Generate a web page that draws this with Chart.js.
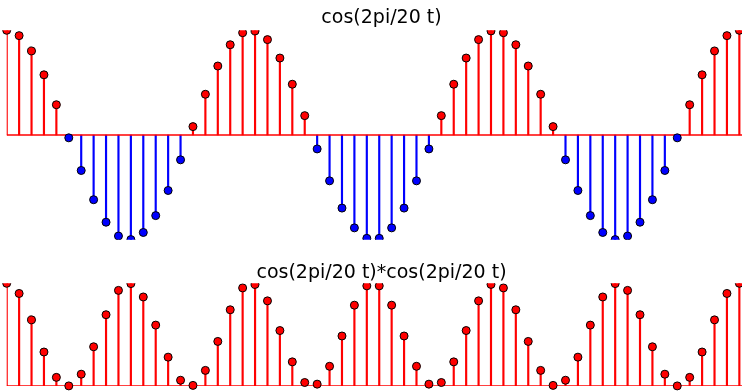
<!DOCTYPE html>
<html>
<head>
<meta charset="utf-8">
<script src="https://cdn.jsdelivr.net/npm/chart.js@4/dist/chart.umd.min.js"></script>
<style>
  html, body { margin: 0; padding: 0; background: #fff; overflow: hidden; }
  #wrap { position: relative; width: 742px; height: 391px; overflow: hidden; }
  canvas { position: absolute; left: 0; }
  #top { top: 0; }
  #bottom { top: 250px; }
</style>
</head>
<body>
<div id="wrap">
  <canvas id="top" width="760" height="250"></canvas>
  <canvas id="bottom" width="760" height="141"></canvas>
</div>
<script>
// values, one per sample n = 0..59
const cosValues = [
  1.000, 0.949, 0.803, 0.575, 0.289, -0.027, -0.339, -0.618, -0.833, -0.965,
  -0.999, -0.931, -0.770, -0.530, -0.237, 0.080, 0.389, 0.659, 0.862, 0.977,
  0.994, 0.911, 0.735, 0.485, 0.185, -0.133, -0.438, -0.698, -0.887, -0.987,
  -0.987, -0.887, -0.698, -0.438, -0.133, 0.185, 0.485, 0.735, 0.911, 0.994,
  0.977, 0.862, 0.659, 0.389, 0.080, -0.237, -0.530, -0.770, -0.931, -0.999,
  -0.965, -0.833, -0.618, -0.339, -0.027, 0.289, 0.575, 0.803, 0.949, 1.000
];
const cosSquaredValues = [
  1.000, 0.901, 0.644, 0.331, 0.084, 0.001, 0.115, 0.382, 0.694, 0.931,
  0.997, 0.867, 0.593, 0.281, 0.056, 0.006, 0.152, 0.434, 0.742, 0.955,
  0.989, 0.829, 0.540, 0.235, 0.034, 0.018, 0.192, 0.487, 0.787, 0.975,
  0.975, 0.787, 0.487, 0.192, 0.018, 0.034, 0.235, 0.540, 0.829, 0.989,
  0.955, 0.742, 0.434, 0.152, 0.006, 0.056, 0.281, 0.593, 0.867, 0.997,
  0.931, 0.694, 0.382, 0.115, 0.001, 0.084, 0.331, 0.644, 0.901, 1.000
];
const titles = ['cos(2pi/20 t)', 'cos(2pi/20 t)*cos(2pi/20 t)'];
const xMax = 60.26;

const RED = '#ff0000';
const BLUE = '#0000ff';

function signColor(ctx) {
  const v = ctx.raw ? ctx.raw.y : 0;
  return v < 0 ? BLUE : RED;
}

function stemChart(id, values, title, yMin, yMax, pad, titlePad, markerClip) {
  const pts = values.map((v, i) => ({ x: i, y: v }));
  return new Chart(document.getElementById(id), {
    type: 'scatter',
    data: {
      datasets: [
        {
          type: 'scatter',
          data: pts,
          pointRadius: 4,
          pointHoverRadius: 4,
          pointBorderWidth: 1,
          pointBorderColor: '#000',
          pointBackgroundColor: signColor,
          clip: markerClip,
          order: 0
        },
        {
          type: 'line',
          data: [{ x: 0, y: 0 }, { x: xMax, y: 0 }],
          borderColor: RED,
          borderWidth: 1.5,
          pointRadius: 0,
          order: 1
        },
        {
          type: 'bar',
          data: pts,
          barThickness: 1.5,
          backgroundColor: signColor,
          borderWidth: 0,
          order: 2
        }
      ]
    },
    options: {
      responsive: false,
      animation: false,
      devicePixelRatio: 1,
      layout: { padding: pad },
      plugins: {
        legend: { display: false },
        tooltip: { enabled: false },
        title: {
          display: true,
          text: title,
          color: '#000',
          font: { family: 'DejaVu Sans', size: 19, weight: 'normal', lineHeight: 1 },
          padding: titlePad
        }
      },
      scales: {
        x: { type: 'linear', min: 0, max: xMax, offset: false, display: false },
        y: { type: 'linear', min: yMin, max: yMax, display: false }
      }
    }
  });
}

stemChart('top', cosValues, titles[0], -1, 1,
  { left: 6.7, right: 3.7, top: 0, bottom: 10.3 },
  { top: 8.2, bottom: 3.1 },
  { left: 10, right: 10, top: 0, bottom: 0 });

stemChart('bottom', cosSquaredValues, titles[1], 0, 1,
  { left: 6.7, right: 3.7, top: 0, bottom: 3.5 },
  { top: 13.9, bottom: 0.4 },
  { left: 10, right: 10, top: 0, bottom: 10 });
</script>
</body>
</html>
